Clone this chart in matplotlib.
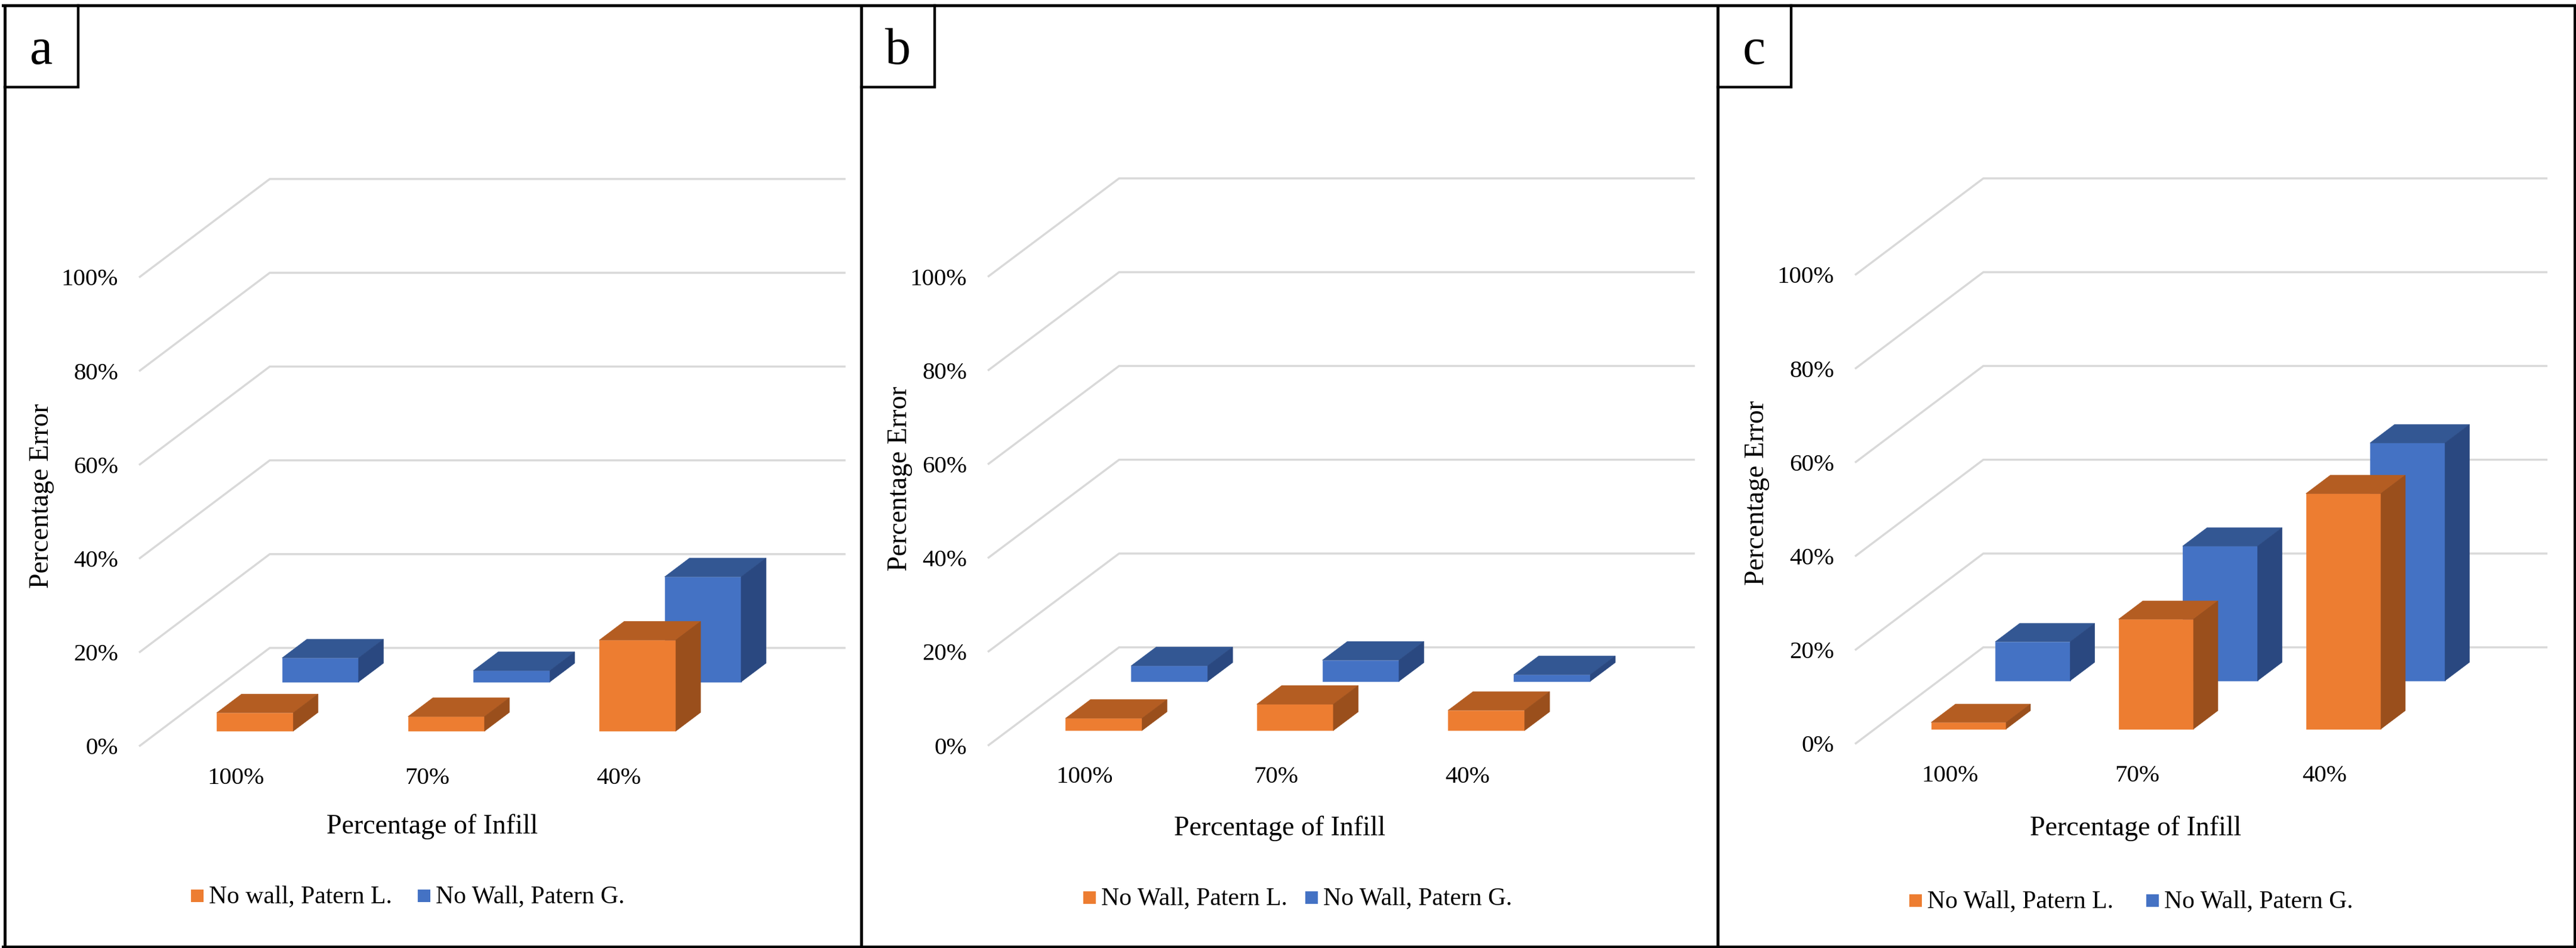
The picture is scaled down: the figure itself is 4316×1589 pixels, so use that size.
#!/usr/bin/env python
# -*- coding: utf-8 -*-
"""Three oblique 3D-style column charts of percentage error against infill."""

import matplotlib
matplotlib.use('Agg')
import matplotlib.pyplot as plt
from matplotlib.lines import Line2D
from matplotlib.patches import Rectangle

# data
infill_labels = ['100%', '70%', '40%']
error_ticks = [0, 20, 40, 60, 80, 100]

a_patern_l = [3.9, 3.1, 19.4]
a_patern_g = [5.1, 2.4, 22.4]
b_patern_l = [2.6, 5.6, 4.3]
b_patern_g = [3.3, 4.5, 1.4]
c_patern_l = [1.4, 23.4, 50.2]
c_patern_g = [8.3, 28.7, 50.7]

a_legend = ['No wall, Patern L.', 'No Wall, Patern G.']
bc_legend = ['No Wall, Patern L.', 'No Wall, Patern G.']

W, H = 4316, 1589
FONT = 'Liberation Serif'
ORANGE = ('#ED7D31', '#B45D22', '#9A4F1C')
BLUE = ('#4472C4', '#335793', '#2A4880')
GRID = '#D9D9D9'
BAR_WIDTH = 0.40
BAR_DEPTH = 0.19

plt.rcParams['font.family'] = FONT

fig = plt.figure(figsize=(W / 100, H / 100), dpi=100, facecolor='white')


def fx(x):
    return x / W


def fy(y):
    return 1 - y / H


def draw_column(ax, cat, band, value, colors, dx, dy):
    """One column: cat is the category index, band the depth position 0..1."""
    left = cat + 0.5 - BAR_WIDTH / 2
    right = left + BAR_WIDTH
    near = band - BAR_DEPTH / 2
    x0, base = left + near * dx, near * dy
    x1 = right + near * dx
    top = base + value
    sx, sy = BAR_DEPTH * dx, BAR_DEPTH * dy
    ax.fill([x0, x1, x1, x0], [base, base, top, top], color=colors[0], lw=0.5, zorder=3)
    ax.fill([x0, x1, x1 + sx, x0 + sx], [top, top, top + sy, top + sy],
            color=colors[1], lw=0.5, zorder=3)
    ax.fill([x1, x1 + sx, x1 + sx, x1], [base, base + sy, top + sy, top],
            color=colors[2], lw=0.5, zorder=3)


def draw_panel(left, right, origin, back, cat_w, series_l, series_g, legend_text, letter, box_right,
               title_y, xlabel_pos, xtick_y, legend_y, legend_x):
    """left/right: panel frame in pixels, origin: front end of the 0% line, back: back end."""
    x0, y0 = origin
    pct_px = 157.2 / 20
    dx = (back[0] - x0) / cat_w
    dy = (y0 - back[1]) / pct_px

    ax = fig.add_axes([fx(left), 0, (right - left) / W, 1])
    ax.set_xlim((left - x0) / cat_w, (right - x0) / cat_w)
    ax.set_ylim((y0 - H) / pct_px, y0 / pct_px)
    ax.axis('off')

    # floor and back wall gridlines
    for v in error_ticks:
        ax.plot([0, dx, dx + 3.01], [v, v + dy, v + dy], color=GRID, lw=2.5,
                solid_joinstyle='miter', solid_capstyle='butt', zorder=1)
        ax.text(-35 / cat_w, v - 4 / pct_px, f'{v}%', ha='right', va='center',
                fontsize=29.5, color='black')

    # columns, back row first
    for i, value in enumerate(series_g):
        draw_column(ax, i, 0.75, value, BLUE, dx, dy)
    for i, value in enumerate(series_l):
        draw_column(ax, i, 0.25, value, ORANGE, dx, dy)

    for i, label in enumerate(infill_labels):
        ax.text(i + 0.5 + 2 / cat_w, (y0 - xtick_y - 4) / pct_px, label, ha='center', va='center',
                fontsize=29.5, color='black')

    fig.text(fx(xlabel_pos), fy(title_y[1]), 'Percentage of Infill', ha='center', va='center',
             fontsize=33, color='black')
    fig.text(fx(title_y[0]), fy(title_y[2]), 'Percentage Error', ha='center', va='center',
             rotation=90, fontsize=33, color='black')

    # legend
    for x_sq, text, color in zip(legend_x, legend_text, (ORANGE[0], BLUE[0])):
        fig.add_artist(Rectangle((fx(x_sq), fy(legend_y + 10.5)), 21 / W, 21 / H,
                                 transform=fig.transFigure, facecolor=color, edgecolor='none'))
        fig.text(fx(x_sq + 30), fy(legend_y + 3), text, ha='left', va='center',
                 fontsize=30, color='black')

    # letter box
    fig.add_artist(Line2D([fx(left), fx(box_right), fx(box_right)],
                          [fy(146), fy(146), fy(9)], color='black', lw=3.2,
                          solid_joinstyle='miter'))
    fig.text(fx((left + box_right) / 2), fy(107), letter, ha='center', va='baseline',
             fontsize=62, color='black')


draw_panel(7.5, 1442.5, (233, 1251), (452, 1086), 320.5, a_patern_l, a_patern_g, a_legend, 'a', 131,
           (70, 1386, 831), 724, 1300, 1501, (320, 700))
draw_panel(1442.5, 2877.5, (1655, 1250), (1875, 1085), 320.5, b_patern_l, b_patern_g, bc_legend, 'b', 1566,
           (1508, 1389, 802), 2144, 1298, 1504, (1815, 2187))
draw_panel(2877.5, 4313.5, (3108, 1247), (3323, 1085), 314, c_patern_l, c_patern_g, bc_legend, 'c', 3001,
           (2944, 1389, 826), 3578, 1296, 1509, (3199, 3596))

# outer frame and panel dividers
for x_line in (7.5, 1442.5, 2877.5, 4313.5):
    fig.add_artist(Line2D([fx(x_line)] * 2, [fy(9), fy(1586.5)], color='black', lw=3.6))
for y_line in (9, 1586.5):
    fig.add_artist(Line2D([fx(5), fx(4316)], [fy(y_line)] * 2, color='black', lw=3.6))

fig.savefig('out.png', dpi=100, facecolor='white')
